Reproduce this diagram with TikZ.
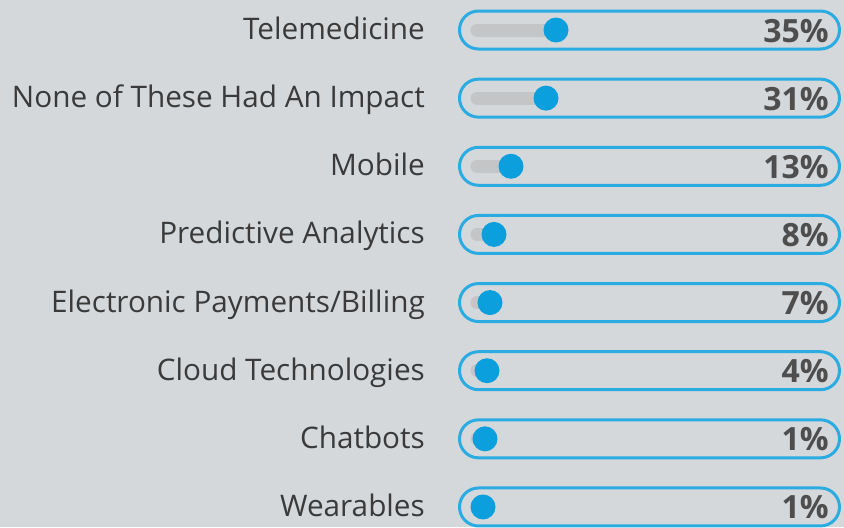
\documentclass[tikz,border=0pt]{standalone}
\usepackage{fontspec}
\setmainfont{Open Sans}
\usetikzlibrary{positioning}

\definecolor{bgGrey}{HTML}{D5D8DB}
\definecolor{barBlue}{HTML}{2AACE2}
\definecolor{knobBlue}{HTML}{0C9FDD}
\definecolor{trackGrey}{HTML}{C4C5C7}
\definecolor{textGrey}{HTML}{3A3A3A}

\begin{document}
\begin{tikzpicture}[x=1pt,y=-1pt,
  lbl/.style={anchor=base east,text=textGrey,font=\fontsize{29.7}{31}\selectfont,inner sep=0pt},
  pct/.style={anchor=base east,text=textGrey!90,font=\fontsize{32}{34}\selectfont\bfseries,inner sep=0pt},
  pill/.style={draw=barBlue,line width=3pt,rounded corners=19pt,minimum width=380pt,minimum height=38pt,inner sep=0pt},
  knob/.style={circle,fill=knobBlue,minimum size=25pt,inner sep=0pt},
  track/.style={line width=13pt,trackGrey,line cap=round}]
  \fill[bgGrey] (0,0) rectangle (844,527);
  % one row per answer: label / share / knob position
  \foreach \name/\val/\kx [count=\i] in {
      Telemedicine/35/556,
      None of These Had An Impact/31/546,
      Mobile/13/511,
      Predictive Analytics/8/494,
      Electronic Payments\slash Billing/7/490,
      Cloud Technologies/4/487,
      Chatbots/1/485,
      Wearables/1/483}{
    \pgfmathsetmacro{\ry}{30+68.14*(\i-1)}
    \node[pill] (bar\i) at (649.5,\ry) {};
    \coordinate (start\i) at (477,\ry);
    \coordinate (kpos\i) at (\kx,\ry);
    \draw[track] (start\i) -- (kpos\i);
    \node[knob] (knob\i) at (kpos\i) {};
    \node[lbl] (label\i) at (425,\ry+9.5) {\name};
    \node[pct] (pct\i) at (829,\ry+12) {\val\%};
  }
\end{tikzpicture}
\end{document}
